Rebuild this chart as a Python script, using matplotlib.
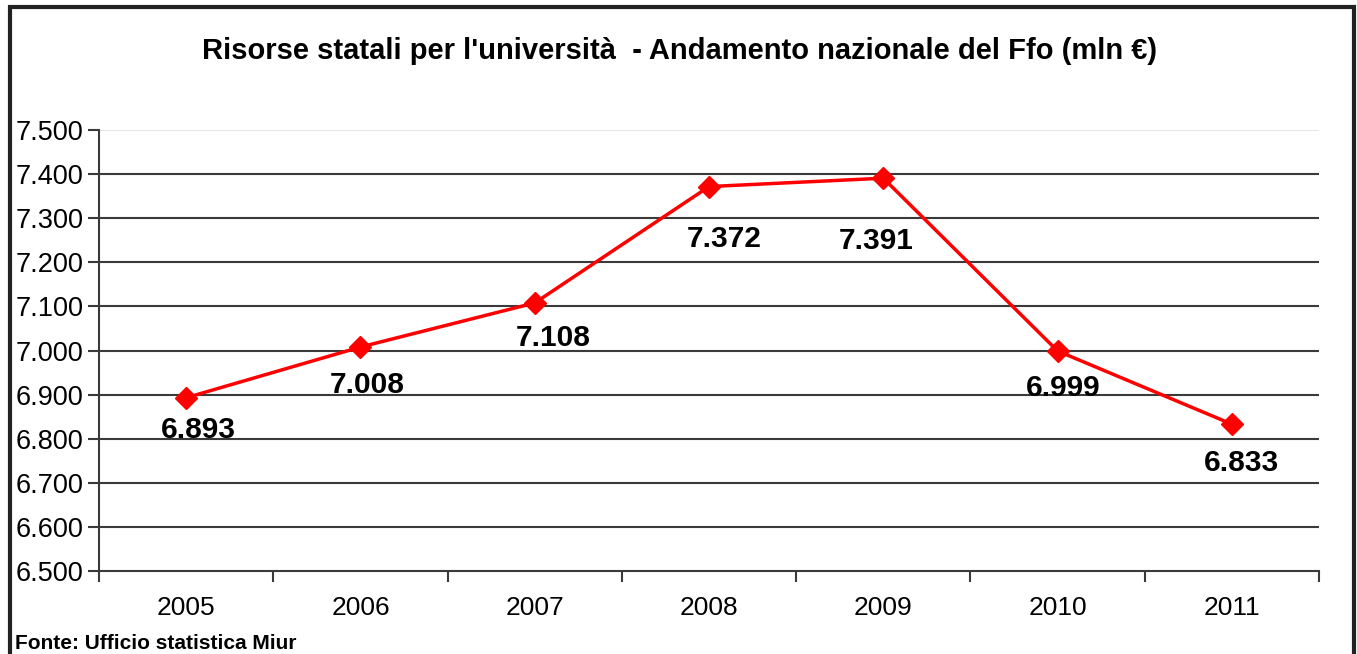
import matplotlib.pyplot as plt
from matplotlib.patches import Rectangle

plt.rcParams['font.family'] = ['Liberation Sans', 'DejaVu Sans']

years = ['2005', '2006', '2007', '2008', '2009', '2010', '2011']
ffo = [6893, 7008, 7108, 7372, 7391, 6999, 6833]
value_labels = ['6.893', '7.008', '7.108', '7.372', '7.391', '6.999', '6.833']
yticks = [6500, 6600, 6700, 6800, 6900, 7000, 7100, 7200, 7300, 7400, 7500]
ytick_labels = ['6.500', '6.600', '6.700', '6.800', '6.900', '7.000',
                '7.100', '7.200', '7.300', '7.400', '7.500']

fig = plt.figure(figsize=(13.57, 6.54), dpi=100)
ax = fig.add_axes([0.073, 0.127, 0.899, 0.674])

x = range(len(years))
ax.plot(x, ffo, color='#ff0000', lw=2.5, marker='D', markersize=11, zorder=5)

# label offsets (points) below each marker
offsets = [(9, -23), (5, -27), (13, -25), (11, -38), (-5, -45), (4, -27), (7, -28)]
for i, (v, lab) in enumerate(zip(ffo, value_labels)):
    ax.annotate(lab, (i, v), xytext=offsets[i], textcoords='offset points',
                ha='center', va='center', fontsize=21.5, fontweight='bold')

ax.set_xlim(-0.5, len(years) - 0.5)
ax.set_ylim(6500, 7500)
ax.set_yticks(yticks)
ax.set_yticklabels(ytick_labels, fontsize=19.5)
for yv in yticks[1:-1]:
    ax.axhline(yv, color='#3a3a3a', lw=1.5, zorder=1)
ax.axhline(7500, color='#e6e6e6', lw=1.5, zorder=1)

ax.set_xticks([i - 0.5 for i in range(len(years) + 1)])
ax.set_xticklabels([])
ax.set_xticks(list(x), minor=True)
ax.set_xticklabels(years, minor=True, fontsize=19)
ax.tick_params(axis='x', which='minor', length=0, pad=18)
ax.tick_params(axis='x', which='major', length=8, width=1.5, color='#3a3a3a', direction='out')
ax.tick_params(axis='y', length=8, width=1.5, color='#3a3a3a', pad=3)

for s in ['top', 'right']:
    ax.spines[s].set_visible(False)
for s in ['left', 'bottom']:
    ax.spines[s].set_color('#3a3a3a')
    ax.spines[s].set_linewidth(1.5)

fig.text(0.501, 0.922, "Risorse statali per l'università  - Andamento nazionale del Ffo (mln €)",
         ha='center', va='center', fontsize=21, fontweight='bold')
fig.text(0.011, 0.002, 'Fonte: Ufficio statistica Miur', ha='left', va='bottom',
         fontsize=15, fontweight='bold')

# outer frame, open at the bottom edge
frame = Rectangle((0.10, -1), 13.44, (654 - 7) / 100 + 1, transform=fig.dpi_scale_trans,
                  fill=False, edgecolor='#222222', lw=3)
fig.patches.append(frame)

fig.savefig('out.png', dpi=100)
